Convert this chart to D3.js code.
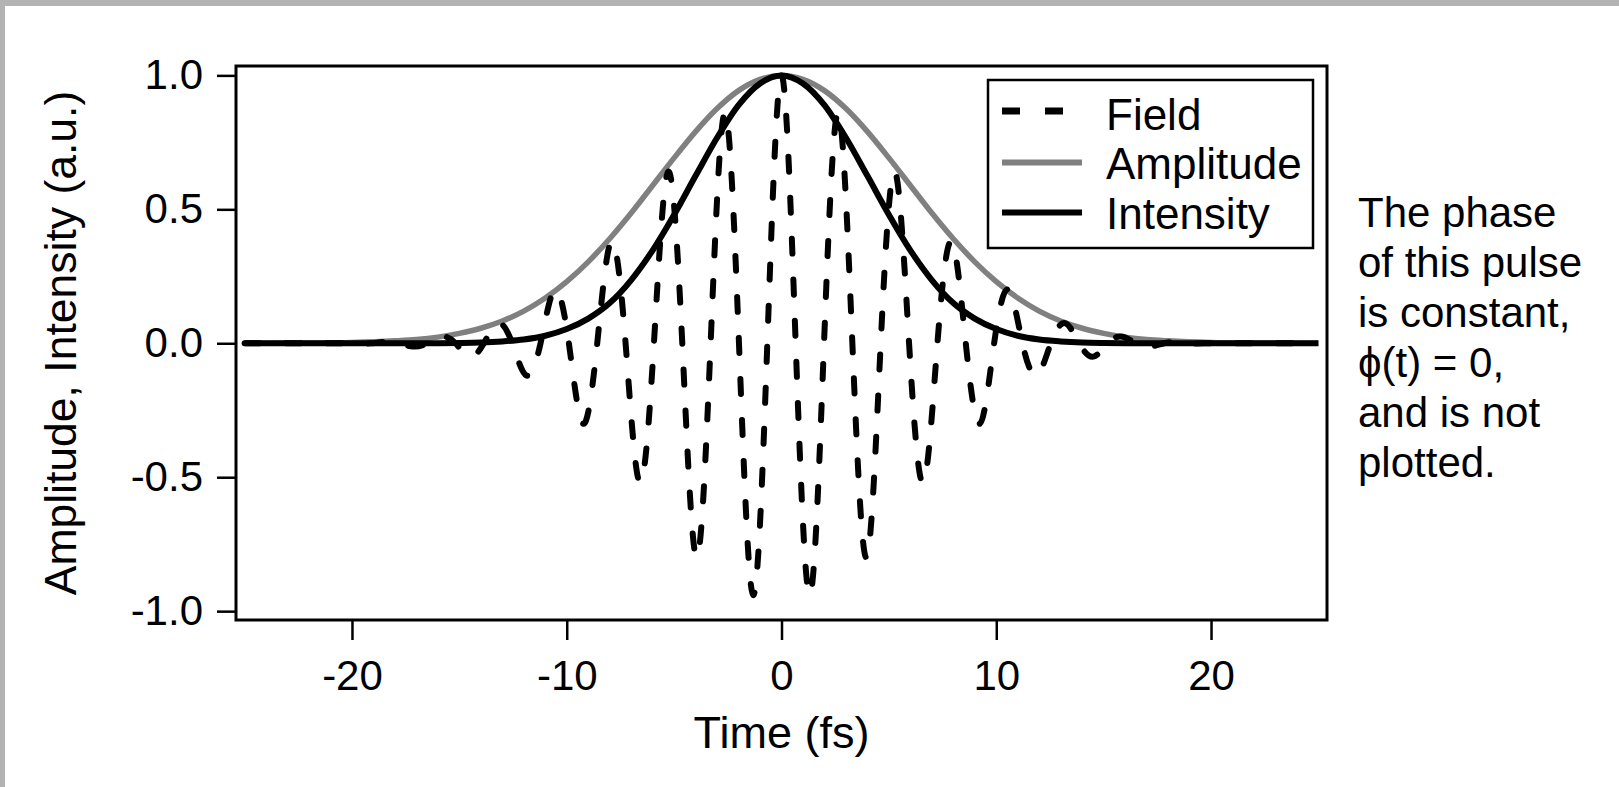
<!DOCTYPE html>
<html>
<head>
<meta charset="utf-8">
<script src="https://cdn.jsdelivr.net/npm/d3@7"></script>
<style>
  html, body { margin: 0; padding: 0; background: #fff; }
  svg { display: block; font-family: "Liberation Sans", Arial, sans-serif; }
</style>
</head>
<body>
<svg id="chart" width="1619" height="787"></svg>
<script>
// ---- data ----
const envT = [-25,-22,-20,-18,-17,-16,-15,-14,-13,-12,-11,-10,-9,-8,-7,-6,-5,-4,-3,-2,-1,0,1,2,3,4,5,6,7,8,9,10,11,12,13,14,15,16,17,18,20,22,25];
const amplitude = [0,0.001,0.003,0.009,0.014,0.023,0.037,0.056,0.083,0.12,0.169,0.23,0.304,0.39,0.486,0.589,0.692,0.79,0.876,0.943,0.985,1.0,0.985,0.943,0.876,0.79,0.692,0.589,0.486,0.39,0.304,0.23,0.169,0.12,0.083,0.056,0.037,0.023,0.014,0.009,0.003,0.001,0];
const intensity = [0,0,0,0,0,0.0005,0.0013,0.003,0.007,0.014,0.028,0.053,0.092,0.15,0.236,0.347,0.48,0.625,0.767,0.889,0.97,1.0,0.97,0.889,0.767,0.625,0.48,0.347,0.236,0.15,0.092,0.053,0.028,0.014,0.007,0.003,0.0013,0.0005,0,0,0,0,0];

const fieldT = [-25,-22,-20,-19.14,-18.48,-17.82,-17.16,-16.5,-15.84,-15.18,-14.52,-13.86,-13.2,-12.54,-11.88,-11.22,-10.56,-9.9,-9.24,-8.58,-7.92,-7.26,-6.6,-5.94,-5.28,-4.62,-3.96,-3.3,-2.64,-1.98,-1.32,-0.66,0,0.66,1.32,1.98,2.64,3.3,3.96,4.62,5.28,5.94,6.6,7.26,7.92,8.58,9.24,9.9,10.56,11.22,11.88,12.54,13.2,13.86,14.52,15.18,15.84,16.5,17.16,17.82,18.48,19.14,20,22,25];
const fieldV = [0,0,0,0,0.005,0,-0.012,0,0.025,0,-0.05,0,0.075,0,-0.12,0,0.2,0,-0.3,0,0.38,0,-0.52,0,0.64,0,-0.8,0,0.86,0,-0.94,0,1.0,0,-0.94,0,0.86,0,-0.8,0,0.64,0,-0.52,0,0.38,0,-0.3,0,0.2,0,-0.12,0,0.075,0,-0.05,0,0.025,0,-0.012,0,0.005,0,0,0,0];

const xTicks = [-20,-10,0,10,20];
const yTicks = [-1.0,-0.5,0.0,0.5,1.0];
const legendLabels = ["Field","Amplitude","Intensity"];
const noteLines = ["The phase","of this pulse","is constant,","\u03D5(t) = 0,","and is not","plotted."];
const xTitle = "Time (fs)";
const yTitle = "Amplitude, Intensity (a.u.)";

// ---- layout ----
const svg = d3.select("#chart");
const L = 236, R = 1327, T = 66, B = 620;
const FS = 42;

// gray frame (top and left)
svg.append("rect").attr("x",0).attr("y",0).attr("width",1619).attr("height",6).attr("fill","#b3b3b3");
svg.append("rect").attr("x",0).attr("y",0).attr("width",5).attr("height",787).attr("fill","#b3b3b3");

const x = d3.scaleLinear().domain([-25.4, 25.4]).range([L, R]);
const y = d3.scaleLinear().domain([-1.033, 1.035]).range([B, T]);

const line = (ts, vs, curve) => d3.line().x((d,i)=>x(ts[i])).y(d=>y(d)).curve(curve)(vs);

// curves
svg.append("path").attr("d", line(envT, amplitude, d3.curveMonotoneX))
  .attr("fill","none").attr("stroke","#808080").attr("stroke-width",5.5);
svg.append("path").attr("d", line(envT, intensity, d3.curveMonotoneX))
  .attr("fill","none").attr("stroke","#000").attr("stroke-width",6);
svg.append("path").attr("d", line(fieldT, fieldV, d3.curveNatural))
  .attr("fill","none").attr("stroke","#000").attr("stroke-width",6)
  .attr("stroke-dasharray","15,26").attr("stroke-linecap","round");

// plot box
svg.append("rect").attr("x",L).attr("y",T).attr("width",R-L).attr("height",B-T)
  .attr("fill","none").attr("stroke","#000").attr("stroke-width",3);

// axes
const xAxis = svg.append("g").attr("transform",`translate(0,${B})`)
  .call(d3.axisBottom(x).tickValues(xTicks).tickFormat(d3.format("d")).tickSize(20).tickPadding(20));
const yAxis = svg.append("g").attr("transform",`translate(${L},0)`)
  .call(d3.axisLeft(y).tickValues(yTicks).tickFormat(d3.format(".1f")).tickSize(19).tickPadding(14));
[xAxis, yAxis].forEach(g => {
  g.select(".domain").remove();
  g.selectAll(".tick line").attr("stroke","#000").attr("stroke-width",2.5);
  g.selectAll(".tick text").attr("fill","#000").style("font-size",FS+"px")
    .style("font-family","'Liberation Sans', Arial, sans-serif");
});
yAxis.selectAll(".tick text").text(d => d3.format(".1f")(d).replace("−","-"));
xAxis.selectAll(".tick text").text(d => String(d));

// axis titles
svg.append("text").attr("x", (L+R)/2).attr("y", 748).attr("text-anchor","middle")
  .style("font-size","45px").text(xTitle);
svg.append("text").attr("transform",`translate(76,${(T+B)/2}) rotate(-90)`).attr("text-anchor","middle")
  .style("font-size","44.5px").text(yTitle);

// legend
const lg = svg.append("g");
lg.append("rect").attr("x",988).attr("y",80).attr("width",325).attr("height",168)
  .attr("fill","#fff").attr("stroke","#000").attr("stroke-width",2.5);
const rowsY = [111, 162.5, 212.5];
const baseY = [129.5, 179, 228.5];
const styles = [
  {stroke:"#000", dash:"18,25", w:7, x2:1064},
  {stroke:"#808080", dash:null, w:6, x2:1082},
  {stroke:"#000", dash:null, w:6, x2:1082}
];
legendLabels.forEach((lab,i) => {
  const l = lg.append("line").attr("x1",1002).attr("x2",styles[i].x2).attr("y1",rowsY[i]).attr("y2",rowsY[i])
    .attr("stroke",styles[i].stroke).attr("stroke-width",styles[i].w);
  if (styles[i].dash) l.attr("stroke-dasharray",styles[i].dash);
  lg.append("text").attr("x",1106).attr("y",baseY[i]).style("font-size","44px").text(lab);
});

// note text
noteLines.forEach((s,i) => {
  svg.append("text").attr("x",1358).attr("y",227 + i*50).style("font-size",FS+"px").text(s);
});
</script>
</body>
</html>
